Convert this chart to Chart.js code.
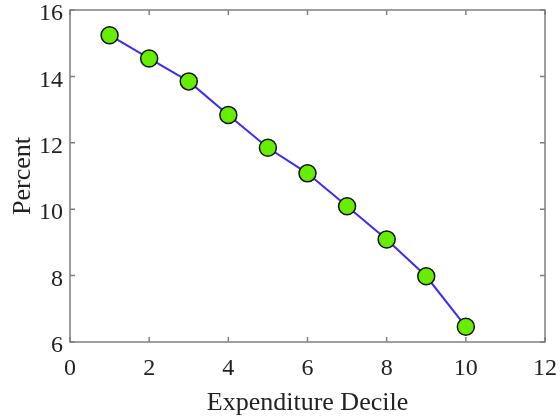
<!DOCTYPE html>
<html>
<head>
<meta charset="utf-8">
<script src="https://cdn.jsdelivr.net/npm/chart.js@4/dist/chart.umd.min.js"></script>
<style>
  html, body { margin: 0; padding: 0; background: #fff; }
  #wrap { width: 560px; height: 419px; }
</style>
</head>
<body>
<div id="wrap"><canvas id="decileChart"></canvas></div>
<script>
const deciles = [1, 2, 3, 4, 5, 6, 7, 8, 9, 10];
const percent = [15.24, 14.54, 13.85, 12.84, 11.85, 11.08, 10.09, 9.09, 7.98, 6.46];
const xTicks = [0, 2, 4, 6, 8, 10, 12];
const yTicks = [6, 8, 10, 12, 14, 16];

const serif = "'Liberation Serif', 'DejaVu Serif', serif";

// matlab style box with inward ticks
const boxPlugin = {
    id: 'boxPlugin',
    afterDraw(chart) {
        const ctx = chart.ctx;
        const a = chart.chartArea;
        const xs = chart.scales.x, ys = chart.scales.y;
        ctx.save();
        ctx.strokeStyle = '#808080';
        ctx.lineWidth = 1.5;
        ctx.strokeRect(a.left, a.top, a.right - a.left, a.bottom - a.top);
        ctx.beginPath();
        xTicks.forEach(v => {
            const px = xs.getPixelForValue(v);
            ctx.moveTo(px, a.bottom); ctx.lineTo(px, a.bottom - 5);
            ctx.moveTo(px, a.top); ctx.lineTo(px, a.top + 5);
        });
        yTicks.forEach(v => {
            const py = ys.getPixelForValue(v);
            ctx.moveTo(a.left, py); ctx.lineTo(a.left + 5, py);
            ctx.moveTo(a.right, py); ctx.lineTo(a.right - 5, py);
        });
        ctx.stroke();
        ctx.restore();
    }
};

new Chart(document.getElementById('decileChart'), {
    type: 'line',
    data: {
        datasets: [{
            data: deciles.map((d, i) => ({ x: d, y: percent[i] })),
            borderColor: '#3b2cf5',
            borderWidth: 2,
            pointRadius: 8.5,
            pointBackgroundColor: '#66ee00',
            pointBorderColor: '#111',
            pointBorderWidth: 1.5,
            tension: 0
        }]
    },
    options: {
        responsive: true,
        maintainAspectRatio: false,
        animation: false,
        layout: { padding: { left: 0, right: 15, top: 9, bottom: 0 } },
        plugins: { legend: { display: false }, tooltip: { enabled: false } },
        scales: {
            x: {
                type: 'linear',
                min: 0, max: 12,
                afterBuildTicks: s => { s.ticks = xTicks.map(v => ({ value: v })); },
                grid: { display: false, drawTicks: false },
                border: { display: false },
                ticks: { color: '#222', font: { family: serif, size: 24 }, padding: 12 },
                title: { display: true, text: 'Expenditure Decile', color: '#222', font: { family: serif, size: 26 }, padding: { top: 2, bottom: 0 } },
                afterFit: s => { s.height = 77; s.paddingLeft = 0; s.paddingRight = 0; }
            },
            y: {
                min: 6, max: 16,
                afterBuildTicks: s => { s.ticks = yTicks.map(v => ({ value: v })); },
                grid: { display: false, drawTicks: false },
                border: { display: false },
                ticks: { color: '#222', font: { family: serif, size: 24 }, padding: 7, labelOffset: 4 },
                title: { display: true, text: 'Percent', color: '#222', font: { family: serif, size: 26 }, padding: { top: 8, bottom: 0 } },
                afterFit: s => { s.width = 70; s.paddingTop = 0; s.paddingBottom = 0; }
            }
        }
    },
    plugins: [boxPlugin]
});
</script>
</body>
</html>
